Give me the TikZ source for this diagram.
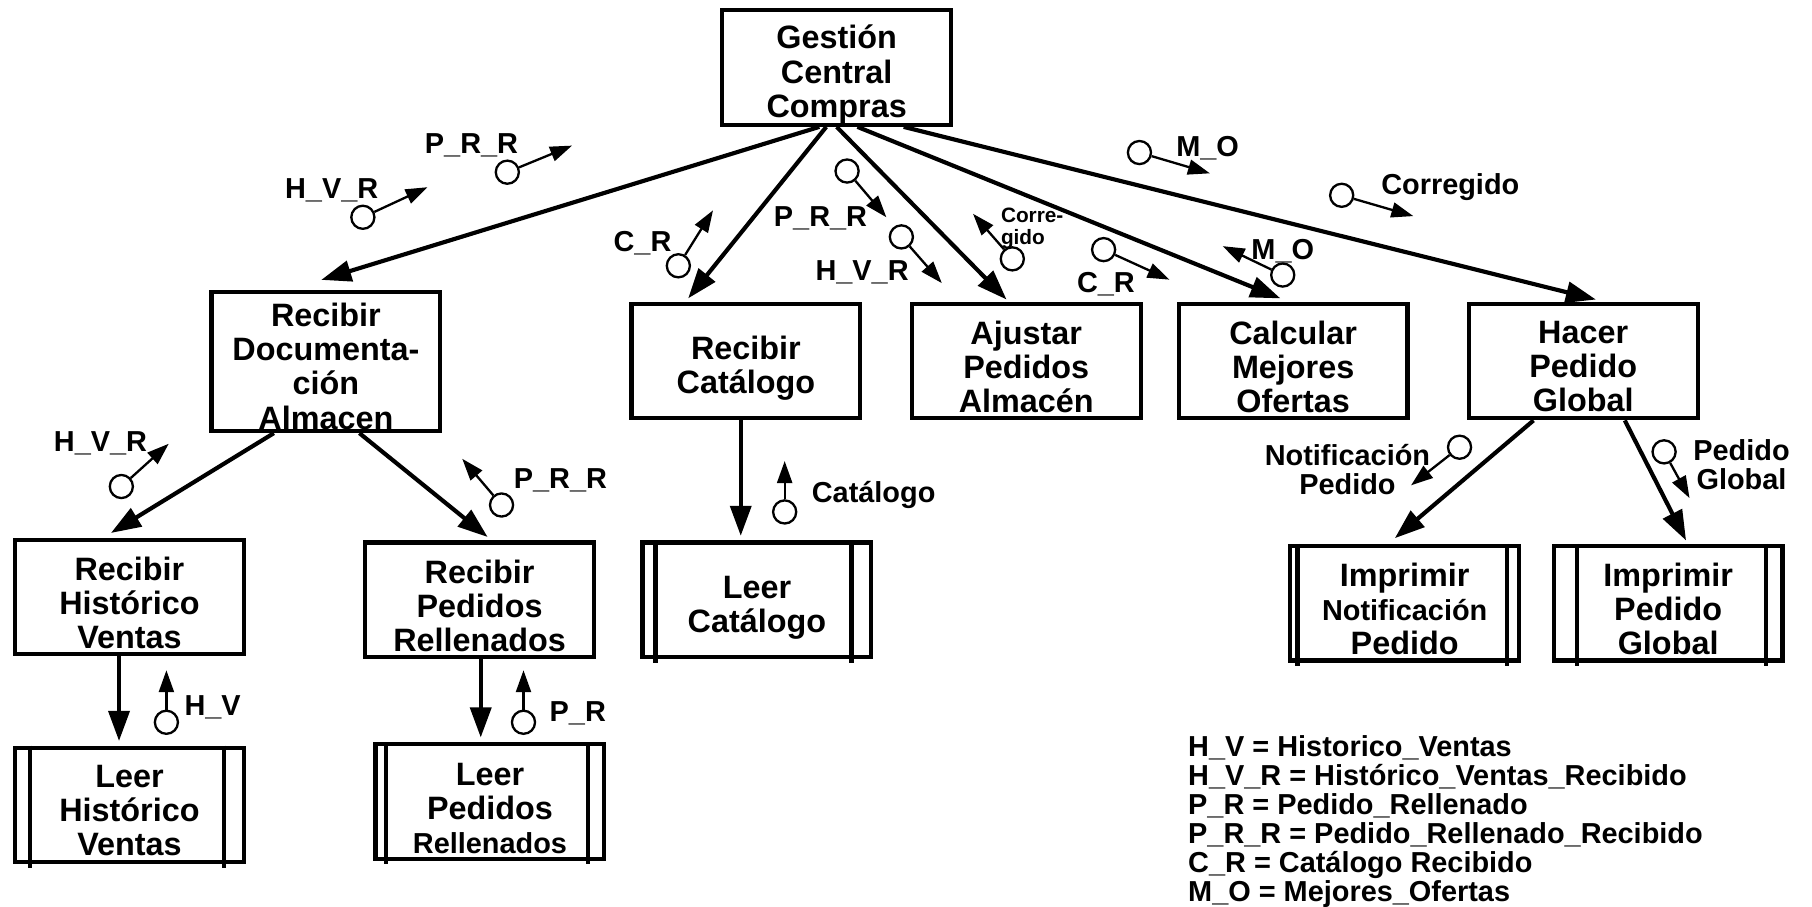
\documentclass[tikz,border=0pt]{standalone}
\usepackage{fontspec}
\setmainfont{Liberation Sans}
\usetikzlibrary{arrows.meta}
\begin{document}
\begin{tikzpicture}[x=1pt,y=-1pt,
  proc/.style={draw, line width=3.6pt, minimum width=198pt, minimum height=99pt, inner sep=0pt},
  ptext/.style={inner sep=0pt, align=center, font=\bfseries\fontsize{28}{29.5}\selectfont},
  flow/.style={line width=3.6pt, -{Triangle[length=26pt,width=18pt]}},
  couple/.style={circle, draw, line width=2pt, minimum size=20pt, inner sep=0pt},
  cflow/.style={line width=2pt, -{Triangle[length=19pt,width=13pt]}},
  lbl/.style={inner sep=0pt, align=center, font=\bfseries\fontsize{25}{25}\selectfont},
  inner/.style={line width=3.6pt},
]
\useasboundingbox (0,0) rectangle (1568,784);

% ---------- processes ----------
\node[proc] (G)  at (724,58.5)    {};
\node[proc, minimum height=120pt] (RD) at (282,313) {};
\node[proc] (RC) at (645.5,312.5) {};
\node[proc] (AP) at (888,312.5)   {};
\node[proc] (CM) at (1119,312.5)  {};
\node[proc] (HP) at (1370,312.5)  {};
\node[proc] (RH) at (112,516.5)   {};
\node[proc] (RP) at (415,519)     {};

% ---------- library modules (double side bars) ----------
\node[proc] (LH) at (112,696.5)  {};
\node[proc] (LP) at (424,693.5)  {};
\node[proc] (LC) at (655,519)    {};
\node[proc] (IN) at (1215.5,522) {};
\node[proc] (IG) at (1443.5,522) {};

\foreach \n/\l/\r in {LH/15/19, LP/11/16, LC/13/19, IN/8/12, IG/22/16}{
  \draw[inner] ([xshift=\l pt]\n.north west) -- ([xshift=\l pt,yshift=-3pt]\n.south west);
  \draw[inner] ([xshift=-\r pt]\n.north east) -- ([xshift=-\r pt,yshift=-3pt]\n.south east);
}

% ---------- box captions ----------
\node[ptext] (Gt)  at ([yshift=-6pt]G.center)  {Gestión\\Central\\Compras};
\node[ptext] (RDt) at ([yshift=-4pt]RD.center) {Recibir\\Documenta-\\ción\\Almacen};
\node[ptext] (RCt) at ([yshift=-6pt]RC.center) {Recibir\\Catálogo};
\node[ptext] (APt) at ([yshift=-5pt]AP.center) {Ajustar\\Pedidos\\Almacén};
\node[ptext] (CMt) at ([yshift=-5pt]CM.center) {Calcular\\Mejores\\Ofertas};
\node[ptext] (HPt) at ([yshift=-5pt]HP.center) {Hacer\\Pedido\\Global};
\node[ptext] (RHt) at ([yshift=-5pt]RH.center) {Recibir\\Histórico\\Ventas};
\node[ptext] (RPt) at ([yshift=-5pt]RP.center) {Recibir\\Pedidos\\Rellenados};
\node[ptext] (LHt) at ([yshift=-5pt]LH.center) {Leer\\Histórico\\Ventas};
\node[ptext] (LPt) at ([yshift=-6pt]LP.center) {Leer\\Pedidos\\{\fontsize{25}{29.5}\selectfont Rellenados}};
\node[ptext] (LCt) at ([yshift=-7pt]LC.center) {Leer\\Catálogo};
\node[ptext] (INt) at ([yshift=-5pt]IN.center) {Imprimir\\{\fontsize{25}{29.5}\selectfont Notificación}\\Pedido};
\node[ptext] (IGt) at ([yshift=-5pt]IG.center) {Imprimir\\Pedido\\Global};

% ---------- calls ----------
\draw[flow] ([xshift=-15pt]G.south) -- ([xshift=-4pt,yshift=9pt]RD.north);
\draw[flow] ([xshift=-9pt]G.south)  -- ([xshift=-50pt,yshift=3pt]RC.north);
\draw[flow] ([xshift=0pt]G.south)   -- ([xshift=-17pt,yshift=2pt]AP.north);
\draw[flow] ([xshift=18pt]G.south)  -- ([xshift=-11pt,yshift=3pt]CM.north);
\draw[flow] ([xshift=58pt]G.south)  -- ([xshift=11pt,yshift=2pt]HP.north);
\draw[flow] ([xshift=-45pt]RD.south) -- ([xshift=-16pt,yshift=4pt]RH.north);
\draw[flow] ([xshift=29pt]RD.south)  -- ([xshift=7pt,yshift=3pt]RP.north);
\draw[flow] ([xshift=-4.5pt]RC.south) -- ([xshift=-14pt,yshift=4pt]LC.north);
\draw[flow] ([xshift=-9pt]RH.south)  -- ([xshift=-9pt,yshift=4pt]LH.north);
\draw[flow] ([xshift=1pt]RP.south)   -- ([xshift=-8pt,yshift=4pt]LP.north);
\draw[flow] ([xshift=-43pt]HP.south) -- ([xshift=-8.5pt,yshift=5pt]IN.north);
\draw[flow] ([xshift=36pt]HP.south)  -- ([xshift=15.5pt,yshift=3pt]IG.north);

% ---------- data couples ----------
\foreach \id/\cx/\cy/\tx/\ty in {
  a/314/188/370/162, b/439/149/495/126, c/587/230/617/182,
  d/733/148/767/188, e/780/205/815/245, f/876/224/842/185,
  g/955/216/1012/242, h/1110/238/1058/213, i/986/132/1047/150,
  j/1161/169/1223/187, k/105/421/146/384, l/434/437/400/397,
  m/144/625/144/580, n/453/625/453/580, o/679/443/679/399,
  p/1263/387/1221/420, q/1440/391/1462/431}{
  \node[couple] (c\id) at (\cx,\cy) {};
  \coordinate (t\id) at (\tx,\ty);
  \draw[cflow] (c\id) -- (t\id);
}

\node[lbl] (la) at (287,165)  {H\_V\_R};
\node[lbl] (lb) at (408,126)  {P\_R\_R};
\node[lbl] (lc) at (556,210)  {C\_R};
\node[lbl] (ld) at (710,189)  {P\_R\_R};
\node[lbl] (le) at (746,236)  {H\_V\_R};
\node[lbl, align=left, anchor=west, font=\bfseries\fontsize{18}{19}\selectfont] (lf) at (866,198) {Corre-\\gido};
\node[lbl] (lg) at (957,246)  {C\_R};
\node[lbl] (lh) at (1110,217) {M\_O};
\node[lbl] (li) at (1045,128) {M\_O};
\node[lbl] (lj) at (1255,162) {Corregido};
\node[lbl] (lk) at (87,384)   {H\_V\_R};
\node[lbl] (ll) at (485,416)  {P\_R\_R};
\node[lbl] (lm) at (184,612)  {H\_V};
\node[lbl] (ln) at (500,617)  {P\_R};
\node[lbl] (lo) at (756,428)  {Catálogo};
\node[lbl] (lp) at (1166,406) {Notificación\\Pedido};
\node[lbl] (lq) at (1507,402) {Pedido\\Global};

% ---------- abbreviations ----------
\node[lbl, align=left, anchor=north west, font=\bfseries\fontsize{25}{25.2}\selectfont] (key) at (1028,636)
  {H\_V = Historico\_Ventas\\
   H\_V\_R = Histórico\_Ventas\_Recibido\\
   P\_R = Pedido\_Rellenado\\
   P\_R\_R = Pedido\_Rellenado\_Recibido\\
   C\_R = Catálogo Recibido\\
   M\_O = Mejores\_Ofertas};
\end{tikzpicture}
\end{document}
